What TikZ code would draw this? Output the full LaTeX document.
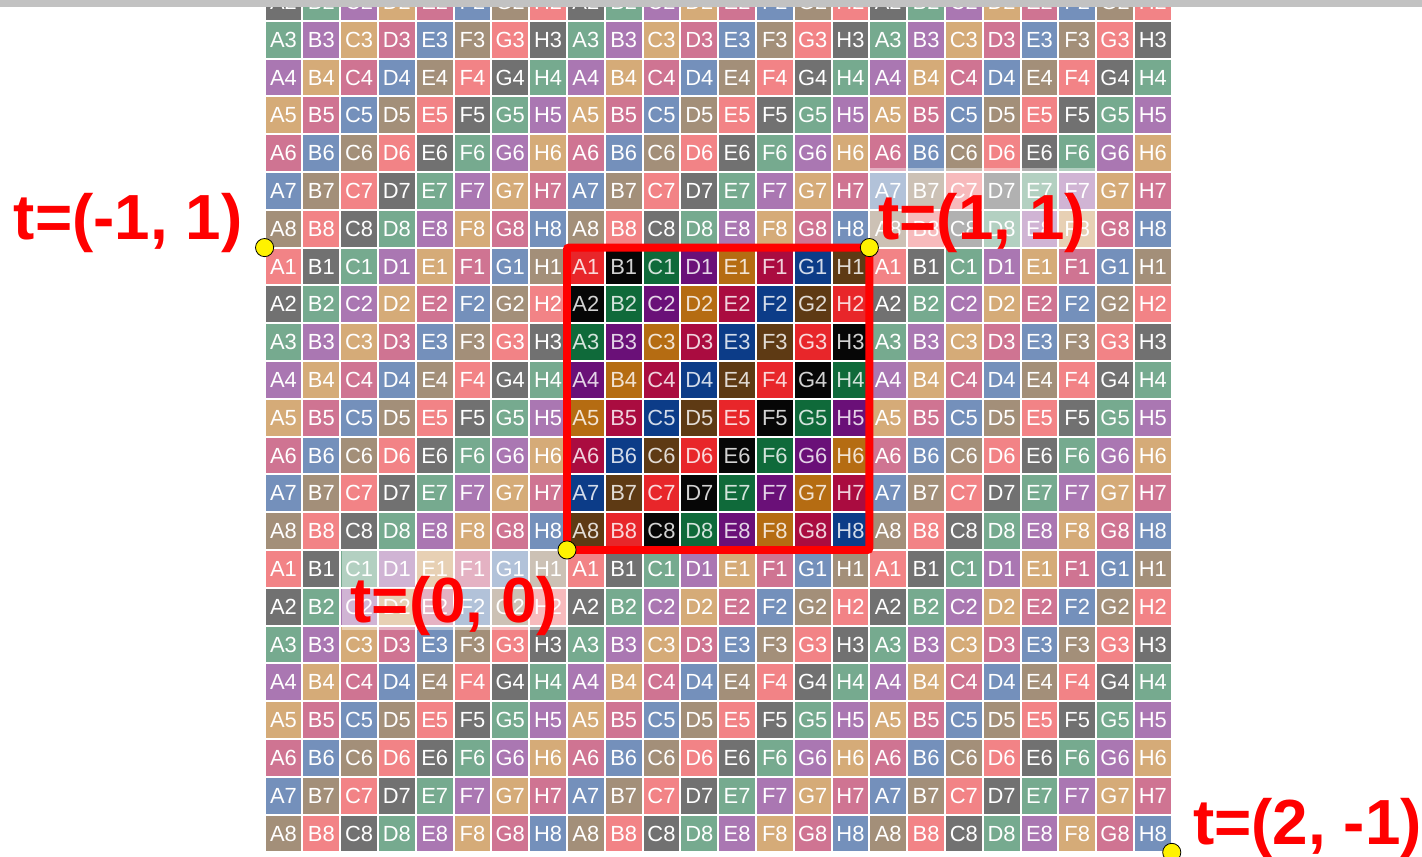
\documentclass[tikz,border=0pt]{standalone}
\usepackage{fontspec}
\setmainfont{Liberation Sans}
\usepackage{tikz}
\usetikzlibrary{positioning,calc}
\usepackage{xcolor}

% texture palette, in the order the diagonal repeats
\definecolor{tcol0}{HTML}{E8262A}
\definecolor{tcol1}{HTML}{060606}
\definecolor{tcol2}{HTML}{0F6A3A}
\definecolor{tcol3}{HTML}{6A1078}
\definecolor{tcol4}{HTML}{B56C12}
\definecolor{tcol5}{HTML}{AA0C40}
\definecolor{tcol6}{HTML}{0C3C88}
\definecolor{tcol7}{HTML}{5E3A14}
\definecolor{barGrey}{HTML}{C2C2C2}

\tikzset{
  cellbox/.style={inner sep=0pt, minimum size=0.95cm,
    font=\fontsize{16.5}{16.5}\selectfont},
  corner/.style={circle, fill=yellow, draw=black, line width=0.6pt,
    inner sep=0pt, minimum size=0.48cm},
  tlabel/.style={text=red, font=\fontsize{48}{50}\selectfont\bfseries,
    fill=white, fill opacity=0.45, text opacity=1,
    inner xsep=0pt, inner ysep=0pt, minimum width=5.95cm,
    text height=1.9cm, text depth=0.2cm},
  tileframe/.style={draw=red, line width=0.21cm, rounded corners=1.5pt}
}

\begin{document}
\begin{tikzpicture}[x=1cm,y=1cm]
    \useasboundingbox (-15,-8.1) rectangle (22.62,14.55);

    % tiled texture, 3x3 copies of the 8x8 tile
    \begin{scope}
    \clip (-15,-8.1) rectangle (22.62,14.55);
    \foreach \tx in {-1,0,1}
    \foreach \ty in {-1,0,1}
    \foreach \c/\l in {0/A,1/B,2/C,3/D,4/E,5/F,6/G,7/H}
    \foreach \r in {1,...,8} {
        \pgfmathtruncatemacro\k{mod(\c+\r-1,8)}
        \pgfmathsetmacro\cx{8*\tx+\c+0.5}
        \pgfmathsetmacro\cy{8*\ty+8-\r+0.5}
        \pgfmathtruncatemacro\fade{(\tx!=0)||(\ty!=0)}
        \ifnum\fade=1
            \def\mix{57}\def\ink{white}
        \else
            \def\mix{100}\def\ink{tcol\k!18!white}
        \fi
        \node[cellbox, fill=tcol\k!\mix!white, text=\ink]
            (cell\tx\ty\l\r) at (\cx,\cy) {\l\r};
    }
    \end{scope}

    % grey strip along the top edge
    \fill[barGrey] (-15,14.36) rectangle (22.62,14.55);

    % texture coordinates
    \coordinate (t00) at (0,0);
    \coordinate (t11) at (8,8);
    \coordinate (tm11) at (-8,8);
    \coordinate (t2m1) at (16,-8);

    % the unit tile
    \draw[tileframe] (t00) rectangle (t11);

    % labels
    \node[tlabel, anchor=north east] (lab00) at (t00) {t=(0, 0)};
    \node[tlabel, anchor=south west] (lab11) at (t11) {t=(1, 1)};
    \node[tlabel, anchor=south east, minimum width=0pt, xshift=-0.58cm] (labm11) at (tm11) {t=(-1, 1)};
    \node[tlabel, anchor=south west, minimum width=0pt, xshift=0.56cm] (lab2m1) at (t2m1) {t=(2, -1)};

    % corner points
    \node[corner] (dot00) at (t00) {};
    \node[corner] (dot11) at (t11) {};
    \node[corner] (dotm11) at (tm11) {};
    \node[corner] (dot2m1) at (t2m1) {};
\end{tikzpicture}
\end{document}
